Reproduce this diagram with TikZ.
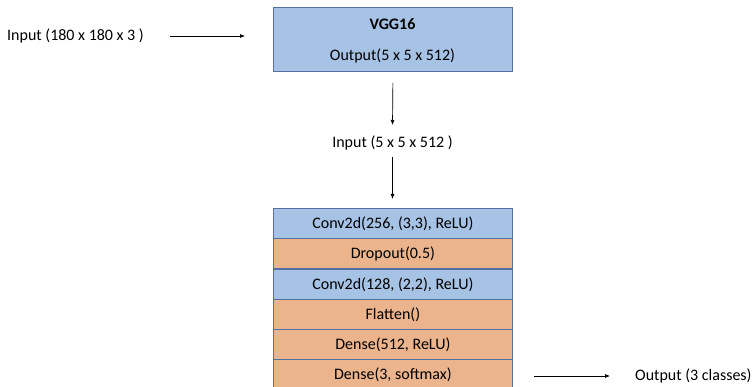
\documentclass[tikz,border=0pt]{standalone}
\usepackage{fontspec}
\setmainfont{Carlito}
\usetikzlibrary{arrows.meta}
\definecolor{layerblue}{RGB}{166,194,228}
\definecolor{layerorange}{RGB}{235,180,140}
\definecolor{layeredge}{RGB}{84,112,160}
\begin{document}
\begin{tikzpicture}[x=1pt,y=-1pt,
  every node/.style={font=\fontsize{16}{19}\selectfont, inner sep=0pt},
  layer/.style={draw=layeredge, line width=0.8pt, minimum width=239pt, minimum height=30pt, anchor=north west},
  bluelayer/.style={layer, fill=layerblue},
  orangelayer/.style={layer, fill=layerorange},
  flow/.style={-{Latex[length=5pt,width=4pt]}, line width=0.7pt}]
\useasboundingbox (0,0) rectangle (752,387);
\begin{scope}
\clip (0,0) rectangle (752,387);
% VGG16 backbone box
\node[bluelayer, minimum height=64pt] (vgg) at (273,7) {};
\node[font=\fontsize{16}{19}\selectfont\bfseries] (vggname) at (392.5,24) {VGG16};
\node (vggout) at (392.5,56) {Output(5 x 5 x 512)};
% classifier head
\node[bluelayer]   (c1) at (273,208) {Conv2d(256, (3,3), ReLU)};
\node[orangelayer] (d1) at (273,238.5) {Dropout(0.5)};
\node[bluelayer]   (c2) at (273,269) {Conv2d(128, (2,2), ReLU)};
\node[orangelayer] (fl) at (273,299) {Flatten()};
\node[orangelayer] (de1) at (273,329) {Dense(512, ReLU)};
\node[orangelayer] (de2) at (273,359) {Dense(3, softmax)};
\end{scope}
% inputs and outputs
\node[anchor=west] (inimg) at (7,36) {Input (180 x 180 x 3 )};
\node (infeat) at (392.5,143) {Input (5 x 5 x 512 )};
\node[anchor=west] (outcls) at (635,376) {Output (3 classes)};
\coordinate (a1s) at (170,36);
\coordinate (a1e) at (245,36);
\coordinate (a4s) at (534,376);
\coordinate (a4e) at (610,376);
\draw[flow] (a1s) -- (a1e);
\draw[flow] (vgg.south) ++(0,11) coordinate (a2s) -- (392.5,125) coordinate (a2e);
\draw[flow] (392.5,157) coordinate (a3s) -- (392.5,199) coordinate (a3e);
\draw[flow] (a4s) -- (a4e);
\end{tikzpicture}
\end{document}
